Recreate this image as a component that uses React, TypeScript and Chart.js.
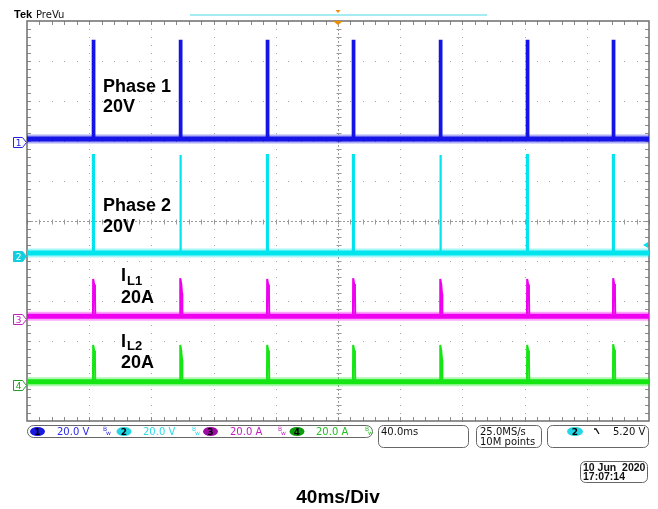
import React, { useEffect, useRef } from "react";
import { Chart, registerables } from "chart.js";
Chart.register(...registerables);

const W = 658;
const H = 509;

// Horizontal: 40 ms/div, 10 divisions; vertical: 10 divisions
const timeMin = -200;
const timeMax = 200;
const msPerDiv = 40;
const divMin = -5;
const divMax = 5;

// switching-pulse times (ms)
const ch1PulseTimes = [-157.6, -101.6, -45.7, 9.6, 65.6, 121.5, 176.8];
const ch2PulseTimes = [-157.6, -101.6, -45.7, 9.6, 65.6, 121.5, 176.8];
const ch3SpikeTimes = [-157.6, -101.6, -45.7, 9.6, 65.6, 121.5, 176.8];
const ch4SpikeTimes = [-157.6, -101.6, -45.7, 9.6, 65.6, 121.5, 176.8];

// levels in divisions (screen)
const ch1Base = 2.05;
const ch1Peaks = [4.5, 4.5, 4.5, 4.5, 4.5, 4.5, 4.5];
const ch2Base = -0.8;
const ch2Peaks = [1.65, 1.65, 1.65, 1.65, 1.65, 1.65, 1.65];
const ch3Base = -2.38;
const ch3Peaks = [-1.45, -1.43, -1.45, -1.43, -1.45, -1.45, -1.43];
const ch4Base = -4.02;
const ch4Peaks = [-3.1, -3.1, -3.1, -3.1, -3.1, -3.1, -3.08];

// channel ground markers (div)
const channelGround = [1.98, -0.88, -2.45, -4.1];

// current-spike profile: time offset (ms) and fraction of spike height
const spikeShapeMs = [0, 0.15, 0.8, 1.3, 1.5];
const spikeShapeFrac = [0, 1, 0.85, 0.6, 0];

const colCh1 = "#1414e6";
const colCh2 = "#00e4ee";
const colCh3 = "#f000f0";
const colCh4 = "#14e614";

type P = { x: number; y: number };

function rectPulses(times: number[], base: number, peaks: number[], w: number): P[] {
  const pts: P[] = [];
  times.forEach((t, i) => {
    pts.push({ x: t, y: base });
    pts.push({ x: t, y: peaks[i] });
    pts.push({ x: t + w, y: peaks[i] });
    pts.push({ x: t + w, y: base });
    pts.push({ x: t + w + 0.01, y: NaN });
  });
  return pts;
}

function shapedSpikes(times: number[], base: number, peaks: number[]): P[] {
  const pts: P[] = [];
  times.forEach((t, i) => {
    spikeShapeMs.forEach((dt, k) => {
      pts.push({ x: t + dt, y: base + (peaks[i] - base) * spikeShapeFrac[k] });
    });
    pts.push({ x: t + 1.6, y: NaN });
  });
  return pts;
}

function flat(base: number): P[] {
  return [
    { x: timeMin, y: base },
    { x: timeMax, y: base },
  ];
}

function ds(data: P[], color: string, width: number, order: number) {
  return {
    data,
    borderColor: color,
    borderWidth: width,
    pointRadius: 0,
    spanGaps: false,
    tension: 0,
    fill: false,
    borderJoinStyle: "miter" as const,
    borderCapStyle: "butt" as const,
    order,
  };
}

const graticule = {
  id: "graticule",
  beforeDatasetsDraw(chart: any) {
    const { ctx, chartArea: a, scales } = chart;
    const xs = scales.x;
    const ys = scales.y;
    ctx.save();
    ctx.fillStyle = "#a9a9a9";
    for (let d = 1; d < 10; d++) {
      const t = timeMin + d * msPerDiv;
      if (t === 0) continue;
      const px = Math.round(xs.getPixelForValue(t));
      for (let m = 0; m <= 50; m++) {
        const py = Math.round(ys.getPixelForValue(divMin + m * 0.2));
        ctx.fillRect(px, py, 1, 1);
      }
    }
    for (let d = 1; d < 10; d++) {
      const v = divMin + d;
      if (v === 0) continue;
      const py = Math.round(ys.getPixelForValue(v));
      for (let m = 0; m <= 50; m++) {
        const px = Math.round(xs.getPixelForValue(timeMin + m * msPerDiv * 0.2));
        ctx.fillRect(px, py, 1, 1);
      }
    }
    const cx = Math.round(xs.getPixelForValue(0)) + 0.5;
    const cy = Math.round(ys.getPixelForValue(0)) + 0.5;
    ctx.strokeStyle = "#9a9a9a";
    ctx.lineWidth = 1;
    ctx.setLineDash([2, 2]);
    ctx.beginPath();
    ctx.moveTo(a.left, cy);
    ctx.lineTo(a.right, cy);
    ctx.moveTo(cx, a.top);
    ctx.lineTo(cx, a.bottom);
    ctx.stroke();
    ctx.setLineDash([]);
    ctx.beginPath();
    for (let m = 0; m <= 50; m++) {
      const px = Math.round(xs.getPixelForValue(timeMin + m * msPerDiv * 0.2)) + 0.5;
      ctx.moveTo(px, cy - 2);
      ctx.lineTo(px, cy + 3);
      const py = Math.round(ys.getPixelForValue(divMin + m * 0.2)) + 0.5;
      ctx.moveTo(cx - 2, py);
      ctx.lineTo(cx + 3, py);
    }
    ctx.stroke();
    ctx.strokeStyle = "#8a8a8a";
    ctx.beginPath();
    for (let m = 1; m < 50; m++) {
      const px = Math.round(xs.getPixelForValue(timeMin + m * msPerDiv * 0.2)) + 0.5;
      ctx.moveTo(px, a.top);
      ctx.lineTo(px, a.top + 4);
      ctx.moveTo(px, a.bottom);
      ctx.lineTo(px, a.bottom - 4);
      const py = Math.round(ys.getPixelForValue(divMin + m * 0.2)) + 0.5;
      ctx.moveTo(a.left, py);
      ctx.lineTo(a.left + 4, py);
      ctx.moveTo(a.right, py);
      ctx.lineTo(a.right - 4, py);
    }
    ctx.stroke();
    ctx.strokeStyle = "#6e6e6e";
    ctx.lineWidth = 1.5;
    ctx.strokeRect(a.left, a.top, a.right - a.left, a.bottom - a.top);
    ctx.restore();
  },
};

function bw(ctx: CanvasRenderingContext2D, x: number, color: string) {
  ctx.fillStyle = color;
  ctx.font = '6px "DejaVu Sans"';
  ctx.fillText("B", x, 431);
  ctx.fillText("w", x + 3, 435);
}

const overlay = {
  id: "overlay",
  afterDraw(chart: any) {
    const { ctx, chartArea: a, scales } = chart;
    const xs = scales.x;
    const ys = scales.y;
    ctx.save();
    ctx.textBaseline = "alphabetic";
    ctx.fillStyle = "#000";
    ctx.font = 'bold 11px "Liberation Sans"';
    ctx.fillText("Tek", 14, 18);
    ctx.font = '10px "DejaVu Sans"';
    ctx.fillStyle = "#111";
    ctx.fillText("PreVu", 36, 18);
    ctx.strokeStyle = "#86e6ee";
    ctx.lineWidth = 1.5;
    ctx.beginPath();
    ctx.moveTo(190, 15);
    ctx.lineTo(487, 15);
    ctx.stroke();
    const tx = xs.getPixelForValue(0);
    ctx.fillStyle = "#f08c00";
    ctx.beginPath();
    ctx.moveTo(tx - 2.5, 10);
    ctx.lineTo(tx + 2.5, 10);
    ctx.lineTo(tx, 13);
    ctx.closePath();
    ctx.fill();
    ctx.beginPath();
    ctx.moveTo(tx - 5, a.top);
    ctx.lineTo(tx + 5, a.top);
    ctx.lineTo(tx, a.top + 4);
    ctx.closePath();
    ctx.fill();
    const ty = ys.getPixelForValue(-0.6);
    ctx.fillStyle = colCh2;
    ctx.beginPath();
    ctx.moveTo(a.right - 1, ty - 3);
    ctx.lineTo(a.right - 6, ty);
    ctx.lineTo(a.right - 1, ty + 3);
    ctx.closePath();
    ctx.fill();

    const marks = [
      { c: "#2424e0", fill: false, label: "1" },
      { c: "#10d0e0", fill: true, label: "2" },
      { c: "#c020c0", fill: false, label: "3" },
      { c: "#20a020", fill: false, label: "4" },
    ];
    marks.forEach((m, i) => {
      const y = Math.round(ys.getPixelForValue(channelGround[i])) + 0.5;
      ctx.beginPath();
      ctx.moveTo(13.5, y - 5);
      ctx.lineTo(22.5, y - 5);
      ctx.lineTo(26.5, y);
      ctx.lineTo(22.5, y + 5);
      ctx.lineTo(13.5, y + 5);
      ctx.closePath();
      ctx.fillStyle = m.fill ? m.c : "#fff";
      ctx.fill();
      ctx.strokeStyle = m.c;
      ctx.lineWidth = 1;
      ctx.stroke();
      ctx.fillStyle = m.fill ? "#fff" : m.c;
      ctx.font = '9px "DejaVu Sans"';
      ctx.textAlign = "center";
      ctx.fillText(m.label, 18.5, y + 3.5);
      ctx.textAlign = "left";
    });

    ctx.fillStyle = "#000";
    ctx.font = 'bold 18px "Liberation Sans"';
    ctx.fillText("Phase 1", 103, 92);
    ctx.fillText("20V", 103, 112);
    ctx.fillText("Phase 2", 103, 211);
    ctx.fillText("20V", 103, 232);
    ctx.fillText("I", 121, 281);
    ctx.fillText("20A", 121, 303);
    ctx.fillText("I", 121, 347);
    ctx.fillText("20A", 121, 368);
    ctx.font = 'bold 13px "Liberation Sans"';
    ctx.fillText("L1", 127, 285);
    ctx.fillText("L2", 127, 350);

    ctx.strokeStyle = "#666";
    ctx.lineWidth = 1;
    ctx.beginPath();
    ctx.roundRect(27.5, 425.5, 345, 12, 6);
    ctx.stroke();
    const badges = [
      { x: 37.5, bg: "#1a1ae0", label: "1", text: "20.0 V", tc: "#2a2ae6", tx: 57, bx: 103 },
      { x: 124, bg: "#22d6e6", label: "2", text: "20.0 V", tc: "#30d8e8", tx: 143, bx: 192 },
      { x: 210.5, bg: "#9c0aa4", label: "3", text: "20.0 A", tc: "#c020c0", tx: 230, bx: 278 },
      { x: 297, bg: "#0c9c0c", label: "4", text: "20.0 A", tc: "#22c022", tx: 316, bx: 365 },
    ];
    badges.forEach((b) => {
      ctx.fillStyle = b.bg;
      ctx.beginPath();
      ctx.ellipse(b.x, 431.5, 7.5, 4.5, 0, 0, Math.PI * 2);
      ctx.fill();
      ctx.fillStyle = "#000";
      ctx.font = 'bold 9px "DejaVu Sans"';
      ctx.textAlign = "center";
      ctx.fillText(b.label, b.x, 435);
      ctx.textAlign = "left";
      ctx.fillStyle = b.tc;
      ctx.font = '10px "DejaVu Sans"';
      ctx.fillText(b.text, b.tx, 435);
      bw(ctx, b.bx, b.tc);
    });

    ctx.strokeStyle = "#666";
    ctx.beginPath();
    ctx.roundRect(378.5, 425.5, 90, 22, 5);
    ctx.stroke();
    ctx.beginPath();
    ctx.roundRect(476.5, 425.5, 65, 22, 5);
    ctx.stroke();
    ctx.beginPath();
    ctx.roundRect(547.5, 425.5, 101, 22, 5);
    ctx.stroke();
    ctx.fillStyle = "#111";
    ctx.font = '10px "DejaVu Sans"';
    ctx.fillText("40.0ms", 381, 435);
    ctx.fillText("25.0MS/s", 480, 435);
    ctx.fillText("10M points", 480, 445);
    ctx.fillStyle = "#22d6e6";
    ctx.beginPath();
    ctx.ellipse(575, 431.5, 8, 4.5, 0, 0, Math.PI * 2);
    ctx.fill();
    ctx.fillStyle = "#000";
    ctx.font = 'bold 9px "DejaVu Sans"';
    ctx.textAlign = "center";
    ctx.fillText("2", 575, 435);
    ctx.textAlign = "left";
    ctx.strokeStyle = "#111";
    ctx.lineWidth = 1.3;
    ctx.beginPath();
    ctx.moveTo(594, 429);
    ctx.lineTo(596, 429);
    ctx.lineTo(599, 434);
    ctx.stroke();
    ctx.fillStyle = "#111";
    ctx.font = '10px "DejaVu Sans"';
    ctx.fillText("5.20 V", 613, 435);

    ctx.strokeStyle = "#666";
    ctx.lineWidth = 1;
    ctx.beginPath();
    ctx.roundRect(580.5, 461.5, 67, 21, 5);
    ctx.stroke();
    ctx.fillStyle = "#111";
    ctx.font = 'bold 10.5px "Liberation Sans"';
    ctx.fillText("10 Jun  2020", 583, 471);
    ctx.fillText("17:07:14", 583, 480);

    ctx.fillStyle = "#000";
    ctx.font = 'bold 19px "Liberation Sans"';
    ctx.textAlign = "center";
    ctx.fillText("40ms/Div", 338, 503);
    ctx.restore();
  },
};

export default function App() {
  const ref = useRef<HTMLCanvasElement | null>(null);
  useEffect(() => {
    if (!ref.current) return;
    const chart = new Chart(ref.current, {
      type: "line",
      data: {
        datasets: [
          ds(flat(ch1Base), "rgba(20,20,230,0.35)", 9, 10),
          ds(flat(ch1Base), colCh1, 5, 9),
          ds(rectPulses(ch1PulseTimes, ch1Base, ch1Peaks, 0.8), colCh1, 2.5, 8),
          ds(flat(ch2Base), "rgba(0,228,238,0.35)", 9, 10),
          ds(flat(ch2Base), colCh2, 5, 9),
          ds(rectPulses(ch2PulseTimes, ch2Base, ch2Peaks, 0.6), colCh2, 2.2, 8),
          ds(flat(ch3Base), "rgba(240,0,240,0.35)", 9, 10),
          ds(flat(ch3Base), colCh3, 5, 9),
          ds(shapedSpikes(ch3SpikeTimes, ch3Base, ch3Peaks), colCh3, 2, 8),
          ds(flat(ch4Base), "rgba(20,230,20,0.35)", 9, 10),
          ds(flat(ch4Base), colCh4, 5, 9),
          ds(shapedSpikes(ch4SpikeTimes, ch4Base, ch4Peaks), colCh4, 2, 8),
        ] as any,
      },
      options: {
        animation: false,
        responsive: false,
        maintainAspectRatio: false,
        layout: { padding: { left: 27, right: 9, top: 21, bottom: 88 } },
        plugins: { legend: { display: false }, tooltip: { enabled: false } },
        scales: {
          x: { type: "linear", min: timeMin, max: timeMax, display: false },
          y: { type: "linear", min: divMin, max: divMax, display: false },
        },
      },
      plugins: [graticule, overlay],
    });
    return () => chart.destroy();
  }, []);
  return (
    <div style={{ position: "absolute", left: 0, top: 0, width: W, height: H, background: "#fff" }}>
      <canvas ref={ref} width={W} height={H} style={{ display: "block" }} />
    </div>
  );
}
